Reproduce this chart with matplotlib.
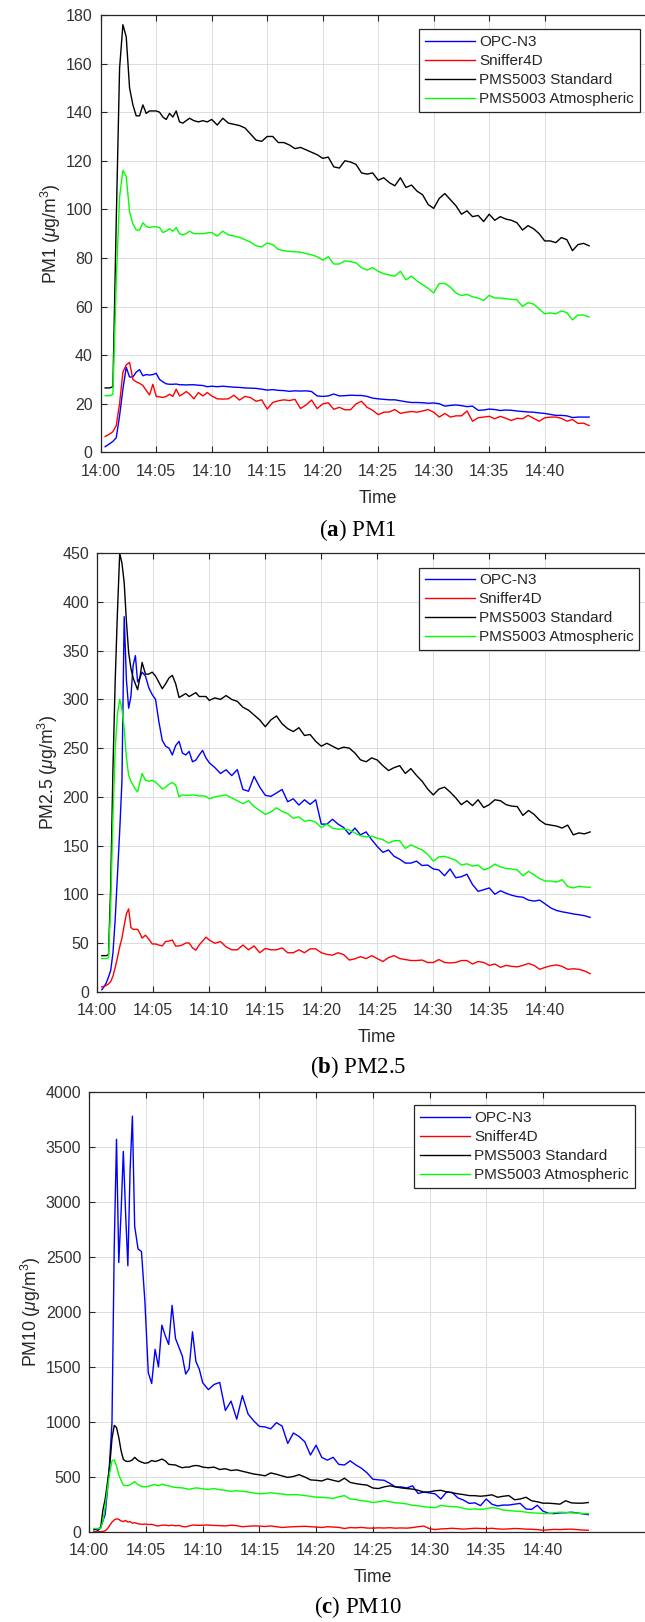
import matplotlib
matplotlib.use("Agg")
import matplotlib.pyplot as plt

plt.rcParams['font.family'] = ['Liberation Sans', 'DejaVu Sans']
plt.rcParams['mathtext.fontset'] = 'custom'
plt.rcParams['mathtext.rm'] = 'Liberation Sans'
plt.rcParams['mathtext.it'] = 'Liberation Sans:italic'
plt.rcParams['mathtext.bf'] = 'Liberation Serif:bold'

# ---------------- data ----------------
series_names = ['OPC-N3', 'Sniffer4D', 'PMS5003 Standard', 'PMS5003 Atmospheric']
series_colors = ['#0000ff', '#ff0000', '#000000', '#00ff00']
tick_minutes = [0, 5, 10, 15, 20, 25, 30, 35, 40]
tick_labels = ['14:00', '14:05', '14:10', '14:15', '14:20', '14:25', '14:30', '14:35', '14:40']

# minutes after 14:00 (panel a)
t_a = [0.4, 0.8, 1.1, 1.4, 1.7, 2.0, 2.3, 2.6, 2.9, 3.2,
       3.5, 3.8, 4.1, 4.4, 4.7, 5.0, 5.3, 5.6, 5.9, 6.2,
       6.5, 6.8, 7.1, 7.4, 7.7, 8.0, 8.4, 8.8, 9.2, 9.6,
       10.0, 10.5, 11.0, 11.5, 12.0, 12.5, 13.0, 13.5, 14.0, 14.5,
       15.0, 15.5, 16.0, 16.5, 17.0, 17.5, 18.0, 18.5, 19.0, 19.5,
       20.0, 20.5, 21.0, 21.5, 22.0, 22.5, 23.0, 23.5, 24.0, 24.5,
       25.0, 25.5, 26.0, 26.5, 27.0, 27.5, 28.0, 28.5, 29.0, 29.5,
       30.0, 30.5, 31.0, 31.5, 32.0, 32.5, 33.0, 33.5, 34.0, 34.5,
       35.0, 35.5, 36.0, 36.5, 37.0, 37.5, 38.0, 38.5, 39.0, 39.5,
       40.0, 40.5, 41.0, 41.5, 42.0, 42.5, 43.0, 43.5, 44.0]

pm1_opc = [2.3, 3.5, 4.5, 6, 15, 26, 35, 31, 31, 33,
           34, 31.5, 32, 31.8, 32, 32.5, 30, 29, 28.2, 28,
           28, 28.1, 27.8, 27.8, 27.7, 27.8, 27.8, 27.6, 27.5, 27,
           27.2, 27, 27.2, 27, 26.8, 26.7, 26.5, 26.4, 26.3, 26,
           25.6, 25.8, 25.5, 25.4, 25.1, 25.3, 25.2, 25.3, 25, 23.2,
           23, 23.2, 24, 23.2, 23.3, 23.5, 23.4, 23.4, 23, 22.3,
           22, 21.8, 21.6, 21.6, 21.2, 20.8, 20.5, 20.5, 20.4, 20.2,
           20.3, 20, 19, 19.3, 19.5, 19.2, 18.8, 19, 17.3, 17.4,
           17.8, 17.6, 17.2, 17.4, 17.3, 17, 16.8, 16.6, 16.5, 16.2,
           16, 15.6, 15.2, 15.2, 15, 14.3, 14.5, 14.5, 14.5]
pm1_sniffer = [6.5, 7.5, 8.5, 11, 20, 33, 36, 37, 30, 29,
               28.4, 27.5, 25.5, 23.6, 28, 23, 22.8, 22.6, 23, 23.9,
               23, 26, 23.2, 24, 25, 24, 22, 24.6, 23.2, 24.6,
               23.2, 22, 21.9, 22, 23.5, 21.5, 23, 22.5, 21, 21.6,
               17.8, 20.5, 21.2, 21.6, 21.3, 21.8, 18, 19.5, 21.5, 18,
               19.9, 20.4, 17.7, 18.5, 17.5, 17.5, 19.9, 21, 18.5, 17.3,
               15.5, 16.5, 16.6, 17.6, 16, 16.5, 16.8, 16.5, 17, 17.6,
               16.5, 14.5, 16, 14.5, 15, 15, 17, 12.8, 14.2, 14.5,
               14.8, 13.8, 14.8, 14, 13.1, 14, 13.8, 15.2, 14, 12.8,
               14.2, 14.5, 14.5, 14, 12.8, 13.5, 11.9, 12, 11]
pm1_std = [26.5, 26.5, 27, 95, 158, 176, 171, 150, 143, 138.5,
           138.5, 143, 139.5, 140.5, 140.5, 140.5, 140, 138, 137, 139.5,
           138, 140.5, 136, 135.5, 136.5, 137.5, 136.5, 136, 136.5, 136,
           137, 134.7, 137.5, 135.5, 135, 134.5, 133.5, 131, 128.5, 128,
           130, 130, 127.5, 127.5, 126.5, 125, 125.5, 124.5, 123.5, 122.5,
           121, 121.5, 117.5, 117, 120, 119.5, 118.5, 115, 114.5, 115,
           112, 113, 111, 109.7, 113, 109, 110, 107.5, 106, 102,
           100.4, 104.5, 106.5, 104, 101.5, 98, 99.4, 97, 97.5, 95,
           98, 95.5, 97, 96, 95.5, 94.5, 91.5, 93.3, 92, 90,
           87, 87, 86.3, 88.4, 87.5, 83, 85.5, 86, 85]
pm1_atm = [23.3, 23.3, 23.8, 70, 105, 116, 113.5, 99, 94, 91.5,
           91.5, 94.5, 93, 92.5, 92.8, 92.8, 92.5, 90.5, 91, 92,
           91, 92.5, 90, 89.5, 90, 91, 90, 90, 90, 90.3,
           90.5, 89, 91, 89.5, 89, 88.5, 87.5, 86.5, 85, 84.5,
           86.2, 85.5, 83.5, 83, 82.7, 82.5, 82.4, 81.8, 81.3, 80.5,
           79.1, 80.5, 77.5, 77.5, 78.8, 78.5, 78, 76, 75, 76,
           74.5, 73.5, 73, 72.5, 74.5, 71, 72.5, 70.5, 69, 67.5,
           65.6, 69.5, 69.5, 68, 65.6, 64.5, 65, 64, 63.5, 62.5,
           64.6, 63.5, 63.5, 63.2, 63, 62.8, 60, 61.6, 61, 59,
           57, 57.4, 57, 58.2, 57.5, 54.5, 56.5, 56.5, 55.7]

# minutes after 14:00 (panels b and c)
t_bc = [0.4, 0.6, 0.8, 1.0, 1.2, 1.4, 1.6, 1.8, 2.0, 2.2,
        2.4, 2.6, 2.8, 3.0, 3.2, 3.4, 3.6, 3.8, 4.0, 4.3,
        4.6, 4.9, 5.2, 5.5, 5.8, 6.1, 6.4, 6.7, 7.0, 7.3,
        7.6, 7.9, 8.2, 8.5, 8.8, 9.1, 9.4, 9.7, 10.0, 10.5,
        11.0, 11.5, 12.0, 12.5, 13.0, 13.5, 14.0, 14.5, 15.0, 15.5,
        16.0, 16.5, 17.0, 17.5, 18.0, 18.5, 19.0, 19.5, 20.0, 20.5,
        21.0, 21.5, 22.0, 22.5, 23.0, 23.5, 24.0, 24.5, 25.0, 25.5,
        26.0, 26.5, 27.0, 27.5, 28.0, 28.5, 29.0, 29.5, 30.0, 30.5,
        31.0, 31.5, 32.0, 32.5, 33.0, 33.5, 34.0, 34.5, 35.0, 35.5,
        36.0, 36.5, 37.0, 37.5, 38.0, 38.5, 39.0, 39.5, 40.0, 40.5,
        41.0, 41.5, 42.0, 42.5, 43.0, 43.5, 44.0]

pm25_opc = [2, 5, 9, 15, 22, 40, 75, 120, 165, 216,
            385, 320, 291, 303, 335, 345, 318, 322, 328, 324,
            312, 305, 300, 277, 258, 252, 250, 243, 252.7, 257,
            245, 243, 246.6, 236, 237.8, 243, 247.7, 240, 235, 230,
            224, 227.8, 221.8, 228, 207.6, 205.8, 221, 210, 201.6, 200.5,
            204, 207.6, 195, 198, 191.6, 197, 192.3, 197, 172, 172,
            177, 172, 168.5, 161.5, 168, 161, 164, 156, 149, 143,
            145.5, 139, 136, 132, 132, 134, 129.5, 130, 126, 125,
            119, 126, 117, 118, 120.6, 110, 103, 104.7, 106.5, 100,
            103.6, 101, 99, 97.6, 97, 94, 93, 94, 90, 85.9,
            83.4, 82, 81, 79.8, 79, 78, 76.3]
pm25_sniffer = [5, 5.5, 6.4, 8, 10.5, 16, 25, 35, 46, 55,
                68, 80, 85, 66, 64, 64, 64, 60, 55, 58,
                54, 49, 49, 47.9, 47, 51.5, 52, 53, 46.8, 47,
                48, 50, 50, 45, 42.6, 48, 52, 56, 53, 49.7,
                51.5, 46, 43, 43, 47.9, 43, 47, 40, 44.4, 43,
                43, 45, 40, 40, 43, 40, 44, 44, 40, 38.3,
                37.5, 40, 38, 32.5, 33.7, 36, 34, 37, 34, 31,
                35, 37, 34, 33, 32, 32, 32.5, 30, 30, 33,
                30, 29.5, 30, 32, 32, 28.4, 31, 30, 27, 28.4,
                25, 27, 26, 25.5, 27, 29, 27, 23, 25, 26.6,
                27.5, 26, 23, 23.5, 23, 21.3, 18.5]
pm25_std = [37, 37, 37, 38, 110, 230, 320, 390, 450, 440,
            420, 380, 348, 332, 322, 316, 310, 322, 338, 326,
            326, 328, 324, 317.6, 311, 316, 322, 324.7, 316, 302,
            304, 306, 303, 305, 307, 303, 303, 303, 299, 301.6,
            300, 304, 300, 298, 292, 289, 284, 279, 272, 279,
            283, 275, 270, 267, 271, 263, 264, 257, 252, 255,
            252, 249, 251, 250, 245, 238, 236, 240, 237.8, 232,
            227, 230, 232, 224, 229, 222, 216, 208, 202, 208,
            210, 205, 199, 192, 196, 191, 197, 189, 192, 197,
            196, 192, 190.5, 190, 181, 186, 182, 176, 172, 171,
            170, 168, 171, 161, 163, 162, 164]
pm25_atm = [34, 34, 34, 35, 90, 180, 250, 285, 300, 290,
            270, 240, 222, 216, 212, 208, 205, 215, 224, 217,
            216, 217, 215, 212, 208, 210, 213, 214.7, 212, 200,
            202, 201.6, 201.6, 202, 201.5, 201, 201, 200.5, 198, 200,
            201, 202, 199, 196, 193, 196, 190, 186, 182, 184.5,
            188.8, 185, 182.7, 178, 179.5, 175, 176, 174, 168.5, 172,
            168, 166.8, 167, 166, 163, 160, 159, 159.7, 157.5, 156,
            152.6, 155, 155, 147, 150.8, 148, 145.5, 141, 134, 138.4,
            139, 137, 135, 130, 131.3, 129, 130, 125, 127, 131,
            128, 126.5, 126, 125, 119, 123.5, 120, 116, 113.6, 113.6,
            112.5, 115, 108, 106.5, 108.2, 107.5, 107.2]

pm10_opc = [0, 5, 16, 40, 100, 160, 380, 650, 994, 2600,
            3570, 2450, 2900, 3460, 2900, 2420, 3300, 3780, 2780, 2573,
            2550, 2100, 1450, 1350, 1660, 1500, 1880, 1784, 1705, 2060,
            1760, 1680, 1600, 1436, 1484, 1820, 1550, 1480, 1357, 1294,
            1341, 1360, 1105, 1190, 1026, 1240, 1073, 1010, 960, 955,
            938, 994, 963, 805, 900, 868, 821, 700, 789, 678,
            653, 679, 615, 609, 647, 610, 580, 537, 480, 474,
            470, 442, 410, 410, 400, 420, 350, 363, 355, 347,
            300, 363, 360, 310, 290, 260, 265, 240, 300, 253,
            237, 245, 245, 253, 260, 210, 205, 243, 190, 170,
            167, 174, 175, 180, 174, 165, 158]
pm10_sniffer = [2, 2, 2, 3, 5, 10, 30, 60, 90, 110,
                120, 115, 100, 95, 105, 90, 95, 80, 85, 75,
                70, 72, 68, 70, 60, 55, 62, 63, 58, 62,
                56, 60, 50, 47, 55, 63, 62, 60, 62, 63,
                60, 58, 55, 62, 58, 48, 52, 55, 54, 50,
                55, 48, 41, 45, 48, 50, 52, 48, 45, 41,
                48, 45, 42, 32, 40, 38, 42, 36, 35, 38,
                36, 39, 35, 37, 35, 40, 48, 54, 30, 22,
                28, 30, 34, 30, 26, 30, 34, 32, 30, 34,
                28, 26, 28, 32, 30, 26, 25, 22, 16, 20,
                24, 22, 25, 26, 22, 18, 16]
pm10_std = [20, 25, 30, 40, 200, 300, 450, 600, 850, 969,
            950, 860, 740, 660, 645, 641, 645, 655, 679, 650,
            635, 625, 630, 650, 641, 650, 663, 647, 615, 612,
            609, 595, 584, 590, 590, 600, 605, 600, 590, 584,
            590, 568, 575, 559, 565, 552, 540, 527, 520, 511,
            537, 525, 510, 496, 505, 521, 500, 474, 470, 464,
            483, 470, 458, 489, 451, 440, 432, 426, 400, 395,
            410, 420, 410, 401, 395, 390, 379, 363, 365, 375,
            379, 365, 357, 347, 340, 331, 330, 325, 330, 338,
            316, 325, 331, 293, 300, 316, 284, 275, 262, 262,
            258, 253, 284, 265, 262, 262, 268]
pm10_atm = [32, 32, 32, 33, 100, 230, 395, 540, 647, 655,
            600, 520, 470, 426, 423, 420, 430, 442, 458, 430,
            415, 410, 415, 425, 432, 420, 435, 426, 420, 410,
            405, 403, 401, 395, 388, 395, 401, 398, 392, 388,
            395, 385, 379, 369, 375, 370, 363, 355, 347, 350,
            357, 350, 345, 338, 340, 338, 331, 325, 316, 316,
            310, 306, 320, 331, 300, 295, 284, 280, 268, 275,
            284, 275, 265, 262, 255, 243, 238, 230, 225, 221,
            243, 235, 230, 228, 215, 205, 210, 205, 212, 221,
            215, 199, 195, 190, 188, 180, 174, 172, 168, 167,
            175, 180, 178, 174, 172, 168, 167]

# ---------------- layout ----------------
W, H = 645, 1622
fig = plt.figure(figsize=(W / 100, H / 100), dpi=100)

panels = [
    dict(t=t_a, ys=[pm1_opc, pm1_sniffer, pm1_std, pm1_atm], ymax=180, ystep=20,
         ylabel=r'PM1 ($\mu$g/m$^3$)', box=(100.7, 15, 11.1, 452.3),
         leg=(0.9712, 0.9673), cap=('a', 'PM1'), cap_y=530),
    dict(t=t_bc, ys=[pm25_opc, pm25_sniffer, pm25_std, pm25_atm], ymax=450, ystep=50,
         ylabel=r'PM2.5 ($\mu$g/m$^3$)', box=(97.3, 553.3, 11.2, 991.7),
         leg=(0.968, 0.9676), cap=('b', 'PM2.5'), cap_y=1067),
    dict(t=t_bc, ys=[pm10_opc, pm10_sniffer, pm10_std, pm10_atm], ymax=4000, ystep=500,
         ylabel=r'PM10 ($\mu$g/m$^3$)', box=(89.3, 1092, 11.34, 1532),
         leg=(0.962, 0.97), cap=('c', 'PM10'), cap_y=1607),
]

XMAX = 50
dark = '#262626'
for p in panels:
    left, top, ppm, bottom = p['box']
    width = ppm * XMAX
    ax = fig.add_axes([left / W, 1 - bottom / H, width / W, (bottom - top) / H])
    for name, col, y in zip(series_names, series_colors, p['ys']):
        ax.plot(p['t'], y, color=col, lw=1.0, label=name)
    ax.set_xlim(0, XMAX)
    ax.set_ylim(0, p['ymax'])
    ax.set_xticks(tick_minutes)
    ax.set_xticklabels(tick_labels)
    ax.set_yticks(list(range(0, p['ymax'] + 1, p['ystep'])))
    ax.grid(True, color='#dcdcdc', linewidth=0.7)
    ax.set_axisbelow(True)
    ax.tick_params(direction='in', length=4, width=0.8, top=True, right=True,
                   labelsize=11.5, labelcolor='#333333', color=dark)
    ax.tick_params(axis='x', pad=8.2)
    ax.tick_params(axis='y', pad=5.8)
    for s in ax.spines.values():
        s.set_color(dark)
        s.set_linewidth(0.9)
    ax.set_xlabel('Time', fontsize=12.7, color=dark, labelpad=8)
    ax.set_ylabel(p['ylabel'], fontsize=12.7, color=dark, labelpad=2)
    leg = ax.legend(loc='upper right', bbox_to_anchor=p['leg'], borderaxespad=0,
                    fontsize=11, frameon=True, fancybox=False, edgecolor=dark,
                    framealpha=1, handlelength=3.27, handletextpad=0.27,
                    borderpad=0.38, labelspacing=0.33)
    leg.get_frame().set_linewidth(0.9)
    for txt in leg.get_texts():
        txt.set_color(dark)
    letter, name = p['cap']
    fig.text(358 / W, 1 - p['cap_y'] / H, r'($\mathbf{%s}$) %s' % (letter, name),
             ha='center', va='center', fontsize=16.5, family='Liberation Serif',
             color='black')

fig.savefig('out.png', dpi=100)
